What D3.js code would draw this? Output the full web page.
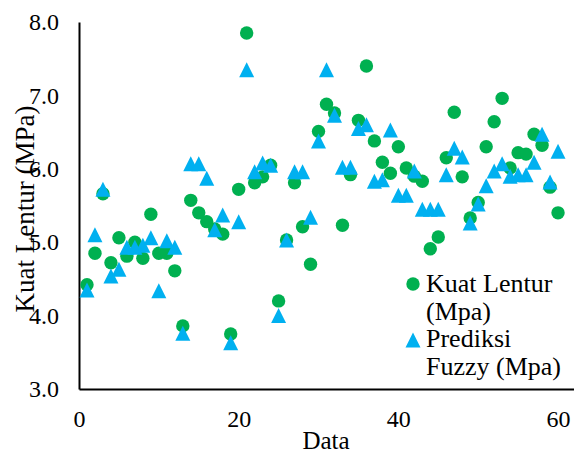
<!DOCTYPE html>
<html>
<head>
<meta charset="utf-8">
<script src="https://cdn.jsdelivr.net/npm/d3@7"></script>
<style>
  body { margin: 0; background: #fff; }
</style>
</head>
<body>
<script>
// size of the page
var w = 574;
var h = 454;
var serif = "'Liberation Serif', 'Times New Roman', serif";

// data: sample number, measured and fuzzy-predicted flexural strength
var dataIndex = d3.range(1, 61);
var kuatLentur = [
  4.42, 4.85, 5.66, 4.72, 5.06, 4.81, 5.00, 4.78, 5.38, 4.85,
  4.85, 4.61, 3.86, 5.57, 5.40, 5.28, 5.18, 5.11, 3.75, 5.72,
  7.85, 5.81, 5.89, 6.05, 4.20, 5.03, 5.81, 5.21, 4.70, 6.51,
  6.88, 6.76, 5.23, 5.92, 6.66, 7.40, 6.38, 6.09, 5.94, 6.30,
  6.01, 5.90, 5.83, 4.91, 5.07, 6.15, 6.77, 5.89, 5.33, 5.54,
  6.30, 6.64, 6.96, 6.01, 6.22, 6.20, 6.47, 6.32, 5.75, 5.40
];
var prediksiFuzzy = [
  4.35, 5.10, 5.72, 4.54, 4.63, 4.93, 4.93, 4.96, 5.06, 4.34,
  5.02, 4.93, 3.76, 6.07, 6.07, 5.87, 5.17, 5.37, 3.63, 5.28,
  7.35, 5.96, 6.08, 6.05, 4.00, 5.03, 5.96, 5.96, 5.34, 6.38,
  7.35, 6.73, 6.02, 6.02, 6.55, 6.60, 5.83, 5.85, 6.53, 5.64,
  5.64, 5.97, 5.45, 5.45, 5.45, 5.92, 6.28, 6.16, 5.26, 5.52,
  5.77, 5.97, 6.07, 5.90, 5.92, 5.92, 6.09, 6.47, 5.82, 6.24
];
var xTicks = [0, 20, 40, 60];
var yTicks = [3, 4, 5, 6, 7, 8];

var green = "#00B050";
var blue = "#00B0F0";

// scales
var xScale = d3.scaleLinear().domain([0, 62]).range([79, 574]);
var yScale = d3.scaleLinear().domain([3, 8]).range([389, 22]);

var svg = d3.select("body").append("svg")
  .attr("width", w)
  .attr("height", h)
  .style("font-family", serif);

// axes
var xAxis = d3.axisBottom(xScale)
  .tickValues(xTicks)
  .tickSize(0)
  .tickPadding(21)
  .tickFormat(d3.format("d"));

var yAxis = d3.axisLeft(yScale)
  .tickValues(yTicks)
  .tickSize(0)
  .tickPadding(20)
  .tickFormat(d3.format(".1f"));

var gx = svg.append("g")
  .attr("transform", "translate(0," + yScale(3) + ")")
  .call(xAxis);
var gy = svg.append("g")
  .attr("transform", "translate(" + xScale(0) + ",0)")
  .call(yAxis);

[gx, gy].forEach(function(g) {
  g.attr("font-family", null).attr("font-size", null);
  g.select(".domain").attr("stroke", "#000").attr("stroke-width", 2);
  g.selectAll("text")
    .attr("fill", "#000")
    .style("font-size", "24px")
    .style("font-family", serif);
});

// axis titles
svg.append("text")
  .attr("x", 326)
  .attr("y", 449)
  .attr("text-anchor", "middle")
  .style("font-size", "25px")
  .style("font-family", serif)
  .text("Data");

svg.append("text")
  .attr("transform", "translate(34,209) rotate(-90)")
  .attr("text-anchor", "middle")
  .style("font-size", "27px")
  .style("font-family", serif)
  .text("Kuat Lentur (MPa)");

// points: measured (circles), then predicted (triangles) on top
svg.append("g").selectAll("circle")
  .data(kuatLentur)
  .enter()
  .append("circle")
  .attr("cx", function(d, i) { return xScale(dataIndex[i]); })
  .attr("cy", function(d) { return yScale(d); })
  .attr("r", 6.7)
  .attr("fill", green);

// Excel style triangle: as tall as it is wide
var triangle = {
  draw: function(ctx, size) {
    var s = Math.sqrt(size) / 2;
    ctx.moveTo(0, -s);
    ctx.lineTo(s, s);
    ctx.lineTo(-s, s);
    ctx.closePath();
  }
};
var tri = d3.symbol().type(triangle).size(225);

svg.append("g").selectAll("path")
  .data(prediksiFuzzy)
  .enter()
  .append("path")
  .attr("d", tri)
  .attr("transform", function(d, i) {
    return "translate(" + xScale(dataIndex[i]) + "," + yScale(d) + ")";
  })
  .attr("fill", blue);

// legend
var legend = svg.append("g");
legend.append("circle").attr("cx", 413).attr("cy", 284).attr("r", 6.7).attr("fill", green);
legend.append("path").attr("d", tri)
  .attr("transform", "translate(413,340)").attr("fill", blue);

var legendLines = [
  ["Kuat Lentur", "(Mpa)"],
  ["Prediksi", "Fuzzy (Mpa)"]
];
legendLines.forEach(function(lines, k) {
  var t = legend.append("text")
    .attr("x", 426)
    .attr("y", 292 + k * 55)
    .attr("fill", "#000")
    .style("font-size", "26px")
    .style("font-family", serif);
  lines.forEach(function(s, j) {
    t.append("tspan").attr("x", 426).attr("dy", j === 0 ? 0 : 28).text(s);
  });
});
</script>
</body>
</html>
